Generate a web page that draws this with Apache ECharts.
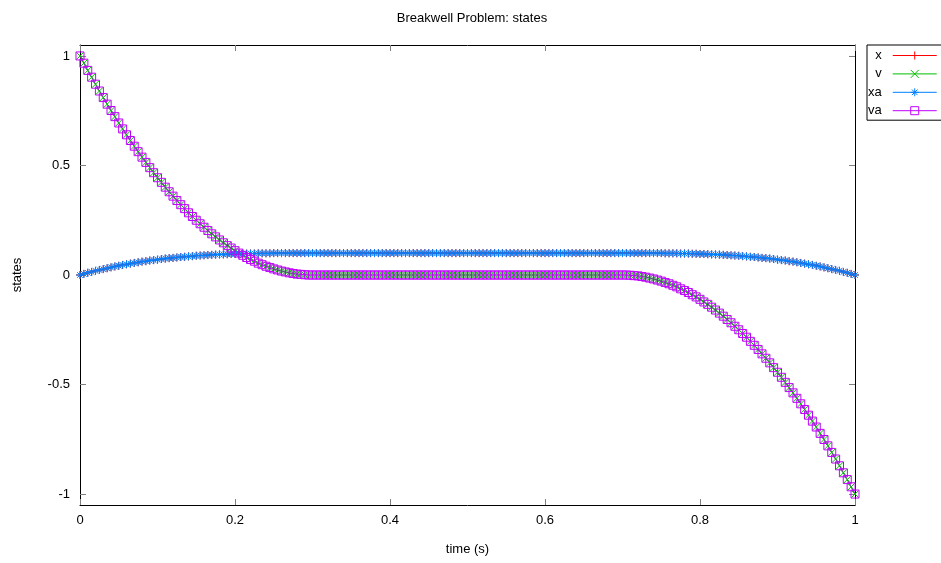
<!DOCTYPE html>
<html>
<head>
<meta charset="utf-8">
<script src="https://cdn.jsdelivr.net/npm/echarts@6/dist/echarts.min.js"></script>
<style>
html,body{margin:0;padding:0;background:#fff;}
#c{width:941px;height:563px;}
</style>
</head>
<body>
<div id="c"></div>
<script>
// time samples (s)
const t = [
0,0.005,0.01,0.015,0.02,0.025,0.03,0.035,0.04,0.045,
0.05,0.055,0.06,0.065,0.07,0.075,0.08,0.085,0.09,0.095,
0.1,0.105,0.11,0.115,0.12,0.125,0.13,0.135,0.14,0.145,
0.15,0.155,0.16,0.165,0.17,0.175,0.18,0.185,0.19,0.195,
0.2,0.205,0.21,0.215,0.22,0.225,0.23,0.235,0.24,0.245,
0.25,0.255,0.26,0.265,0.27,0.275,0.28,0.285,0.29,0.295,
0.3,0.305,0.31,0.315,0.32,0.325,0.33,0.335,0.34,0.345,
0.35,0.355,0.36,0.365,0.37,0.375,0.38,0.385,0.39,0.395,
0.4,0.405,0.41,0.415,0.42,0.425,0.43,0.435,0.44,0.445,
0.45,0.455,0.46,0.465,0.47,0.475,0.48,0.485,0.49,0.495,
0.5,0.505,0.51,0.515,0.52,0.525,0.53,0.535,0.54,0.545,
0.55,0.555,0.56,0.565,0.57,0.575,0.58,0.585,0.59,0.595,
0.6,0.605,0.61,0.615,0.62,0.625,0.63,0.635,0.64,0.645,
0.65,0.655,0.66,0.665,0.67,0.675,0.68,0.685,0.69,0.695,
0.7,0.705,0.71,0.715,0.72,0.725,0.73,0.735,0.74,0.745,
0.75,0.755,0.76,0.765,0.77,0.775,0.78,0.785,0.79,0.795,
0.8,0.805,0.81,0.815,0.82,0.825,0.83,0.835,0.84,0.845,
0.85,0.855,0.86,0.865,0.87,0.875,0.88,0.885,0.89,0.895,
0.9,0.905,0.91,0.915,0.92,0.925,0.93,0.935,0.94,0.945,
0.95,0.955,0.96,0.965,0.97,0.975,0.98,0.985,0.99,0.995,
1
];
// position state x
const x = [
0,0.005,0.010,0.014,0.019,0.023,0.027,0.031,0.035,0.039,
0.042,0.046,0.049,0.052,0.055,0.058,0.061,0.063,0.066,0.068,
0.070,0.073,0.075,0.077,0.078,0.080,0.082,0.083,0.085,0.086,
0.088,0.089,0.090,0.091,0.092,0.093,0.094,0.094,0.095,0.096,
0.096,0.097,0.097,0.098,0.098,0.098,0.099,0.099,0.099,0.099,
0.1,0.1,0.1,0.1,0.1,0.1,0.1,0.1,0.1,0.1,
0.1,0.1,0.1,0.1,0.1,0.1,0.1,0.1,0.1,0.1,
0.1,0.1,0.1,0.1,0.1,0.1,0.1,0.1,0.1,0.1,
0.1,0.1,0.1,0.1,0.1,0.1,0.1,0.1,0.1,0.1,
0.1,0.1,0.1,0.1,0.1,0.1,0.1,0.1,0.1,0.1,
0.1,0.1,0.1,0.1,0.1,0.1,0.1,0.1,0.1,0.1,
0.1,0.1,0.1,0.1,0.1,0.1,0.1,0.1,0.1,0.1,
0.1,0.1,0.1,0.1,0.1,0.1,0.1,0.1,0.1,0.1,
0.1,0.1,0.1,0.1,0.1,0.1,0.1,0.1,0.1,0.1,
0.1,0.1,0.1,0.1,0.1,0.1,0.1,0.1,0.1,0.1,
0.1,0.099,0.099,0.099,0.099,0.098,0.098,0.098,0.097,0.097,
0.096,0.096,0.095,0.094,0.094,0.093,0.092,0.091,0.090,0.089,
0.088,0.086,0.085,0.083,0.082,0.080,0.078,0.077,0.075,0.073,
0.070,0.068,0.066,0.063,0.061,0.058,0.055,0.052,0.049,0.046,
0.042,0.039,0.035,0.031,0.027,0.023,0.019,0.014,0.010,0.005,
0
];
// velocity state v
const v = [
1,0.967,0.934,0.903,0.871,0.840,0.810,0.780,0.751,0.723,
0.694,0.667,0.640,0.614,0.588,0.563,0.538,0.514,0.490,0.467,
0.444,0.423,0.401,0.380,0.360,0.340,0.321,0.303,0.284,0.267,
0.250,0.234,0.218,0.203,0.188,0.174,0.160,0.147,0.134,0.123,
0.111,0.100,0.090,0.080,0.071,0.063,0.054,0.047,0.040,0.034,
0.028,0.023,0.018,0.014,0.010,0.007,0.004,0.003,0.001,0,
0,0,0,0,0,0,0,0,0,0,
0,0,0,0,0,0,0,0,0,0,
0,0,0,0,0,0,0,0,0,0,
0,0,0,0,0,0,0,0,0,0,
0,0,0,0,0,0,0,0,0,0,
0,0,0,0,0,0,0,0,0,0,
0,0,0,0,0,0,0,0,0,0,
0,0,0,0,0,0,0,0,0,0,
0,0,-0.001,-0.003,-0.004,-0.007,-0.010,-0.014,-0.018,-0.023,
-0.028,-0.034,-0.040,-0.047,-0.054,-0.063,-0.071,-0.080,-0.090,-0.100,
-0.111,-0.123,-0.134,-0.147,-0.160,-0.174,-0.188,-0.203,-0.218,-0.234,
-0.250,-0.267,-0.284,-0.303,-0.321,-0.340,-0.360,-0.380,-0.401,-0.423,
-0.444,-0.467,-0.490,-0.514,-0.538,-0.563,-0.588,-0.614,-0.640,-0.667,
-0.694,-0.723,-0.751,-0.780,-0.810,-0.840,-0.871,-0.903,-0.934,-0.967,
-1
];
// analytic states (coincide with the numerical ones)
const xa = x;
const va = v;

const seriesNames = ['x', 'v', 'xa', 'va'];
const seriesColors = ['#ff0000', '#00c000', '#0080ff', '#c000ff'];
const xTicks = [0, 0.2, 0.4, 0.6, 0.8, 1];
const yTicks = [-1, -0.5, 0, 0.5, 1];

const FONT = 'Liberation Sans, Arial, Helvetica, sans-serif';
const SYM = {
  plus: 'path://M0,5L10,5M5,0L5,10',
  cross: 'path://M0,0L10,10M10,0L0,10',
  star: 'path://M0,5L10,5M5,0L5,10M1.5,1.5L8.5,8.5M8.5,1.5L1.5,8.5'
};

function mk(name, arr, symbol, size, color) {
  return {
    name: name,
    type: 'line',
    data: t.map((tt, i) => [tt, arr[i]]),
    symbol: symbol,
    symbolSize: size,
    showAllSymbol: true,
    color: color,
    lineStyle: { color: color, width: 1 },
    itemStyle: { color: 'rgba(0,0,0,0)', borderColor: color, borderWidth: 1 },
    emphasis: { disabled: true },
    animation: false,
    silent: true
  };
}

const tickStyle = { color: '#808080', width: 1 };
const frame = { show: true, onZero: false, lineStyle: { color: '#000', width: 1 } };

const chart = echarts.init(document.getElementById('c'), null, { renderer: 'canvas' });
chart.setOption({
  backgroundColor: '#fff',
  animation: false,
  title: {
    text: 'Breakwell Problem: states',
    left: 467, textAlign: 'center', top: 7,
    textStyle: { fontFamily: FONT, fontSize: 13, fontWeight: 'normal', color: '#000' }
  },
  legend: {
    orient: 'vertical',
    left: 867, top: 45,
    align: 'right',
    itemWidth: 44, itemHeight: 10, itemGap: 5.4,
    padding: [4, 20, 3, 1],
    borderColor: '#000', borderWidth: 1,
    selectedMode: false,
    textStyle: { fontFamily: FONT, fontSize: 13, color: '#000', padding: [0, 6, 0, 0] },
    data: seriesNames.map((n, i) => ({
      name: n,
      lineStyle: { color: seriesColors[i], width: 1 },
      itemStyle: { color: 'rgba(0,0,0,0)', borderColor: seriesColors[i], borderWidth: 1 }
    }))
  },
  grid: { left: 80, right: 86, top: 45, bottom: 58, containLabel: false },
  xAxis: [
    {
      type: 'value', min: 0, max: 1, position: 'bottom',
      name: 'time (s)', nameLocation: 'middle', nameGap: 38,
      nameTextStyle: { fontFamily: FONT, fontSize: 13, color: '#000' },
      axisLine: frame,
      axisTick: { show: true, inside: true, length: 6, customValues: xTicks, lineStyle: tickStyle },
      axisLabel: { customValues: xTicks, fontFamily: FONT, fontSize: 13, color: '#000', margin: 9,
                   formatter: (val) => String(+val.toFixed(2)) },
      splitLine: { show: false }
    },
    {
      type: 'value', min: 0, max: 1, position: 'top',
      axisLine: frame,
      axisTick: { show: true, inside: true, length: 6, customValues: xTicks, lineStyle: tickStyle },
      axisLabel: { show: false },
      splitLine: { show: false }
    }
  ],
  yAxis: [
    {
      type: 'value', min: -1.05, max: 1.05, position: 'left',
      name: 'states', nameLocation: 'middle', nameGap: 56,
      nameTextStyle: { fontFamily: FONT, fontSize: 13, color: '#000' },
      axisLine: frame,
      axisTick: { show: true, inside: true, length: 6, customValues: yTicks, lineStyle: tickStyle },
      axisLabel: { customValues: yTicks, fontFamily: FONT, fontSize: 13, color: '#000', margin: 10,
                   formatter: (val) => String(+val.toFixed(2)) },
      splitLine: { show: false }
    },
    {
      type: 'value', min: -1.05, max: 1.05, position: 'right',
      axisLine: frame,
      axisTick: { show: true, inside: true, length: 6, customValues: yTicks, lineStyle: tickStyle },
      axisLabel: { show: false },
      splitLine: { show: false }
    }
  ],
  series: [
    mk('x', x, SYM.plus, 8, seriesColors[0]),
    mk('v', v, SYM.cross, 7, seriesColors[1]),
    mk('xa', xa, SYM.star, 8, seriesColors[2]),
    mk('va', va, 'rect', 8, seriesColors[3])
  ]
});
</script>
</body>
</html>
